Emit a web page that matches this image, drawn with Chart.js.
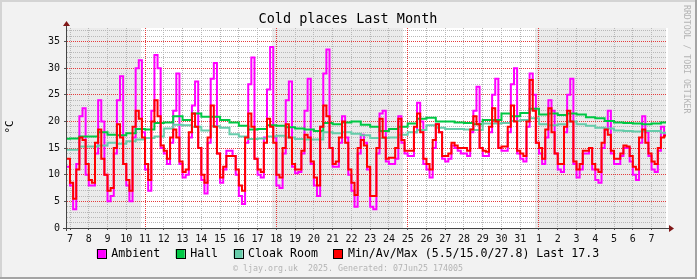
<!DOCTYPE html>
<html>
<head>
<meta charset="utf-8">
<script src="https://cdn.jsdelivr.net/npm/chart.js@4/dist/chart.umd.min.js"></script>
<style>
  html, body { margin: 0; padding: 0; background: #f2f2f2; }
  canvas { display: block; }
</style>
</head>
<body>
<canvas id="myChart" width="697" height="279"></canvas>
<script>
// x is days since 7 May 00:00, one label per midnight
const dayLabels = ['7','8','9','10','11','12','13','14','15','16','17','18','19','20','21','22','23','24','25','26','27','28','29','30','31','1','2','3','4','5','6','7'];
const weekLines = [4, 11, 18, 25];
const shadeBands = [[-0.16, 3.8], [10.77, 17.75], [24.8, 31.77]];
const yMajor = [0, 5, 10, 15, 20, 25, 30, 35];

const seriesNames = ['Ambient', 'Hall', 'Cloak Room', 'Min/Av/Max'];
const seriesColors = ['#ff00ff', '#00c844', '#66ccaa', '#ff0000'];
const redStats = ['5.5', '15.0', '27.8', '17.3'];

// 4 hour steps, first one starts 6 May 20:00
const ambientStart = -1 / 6;
const ambient = [11.5,
  8, 3.5, 12, 21, 22.5, 10,
  8, 8, 14, 24, 20, 10,
  5, 6, 14, 24, 28.5, 12,
  8, 5, 17, 30, 31.5, 18,
  11, 7, 22, 32.5, 30, 15,
  14, 12, 16, 22, 29, 12,
  9.5, 10, 17, 23, 27.5, 15,
  9, 6.5, 16, 28, 31, 14,
  8.5, 11, 14.5, 14.5, 13.5, 10,
  6, 4.5, 16, 27, 32, 13,
  10, 9.5, 17, 26, 34, 17,
  8, 7.5, 14, 24, 27.5, 11.5,
  10.3, 10.5, 14, 22, 28, 12,
  8, 6, 19, 29, 33.5, 15,
  11.5, 11.5, 16, 21, 17, 10,
  7, 4, 14, 17.5, 16, 11,
  4, 3.5, 14, 21.5, 22, 12.5,
  12, 12, 13, 21, 16, 14,
  13.5, 13.5, 18, 23.5, 20, 12,
  11, 9.5, 15, 19.5, 18, 13,
  12.5, 13, 15.5, 15, 14.5, 14,
  14, 13.5, 18, 22, 26.5, 15,
  13.5, 13.5, 18, 25, 28, 15,
  14.5, 14.5, 18, 27, 30, 14,
  13, 12.5, 19, 29, 25, 16,
  14, 12, 17, 24, 22, 14,
  11, 10.5, 18, 25, 28, 12,
  9.5, 11, 14, 14, 15, 11,
  9, 8.5, 15, 18.5, 22, 14,
  12, 12, 13.5, 15, 15, 12.5,
  10, 9, 16, 21, 18, 13.5,
  11, 10.5, 14.5, 19, 17.5];

const minAvMax = [13,
  8.5, 5.5, 11, 17, 16.5, 12,
  9, 8.5, 16, 18.5, 13, 10,
  7, 7.5, 15, 19.5, 17, 12,
  9, 7, 19, 22, 20.5, 17,
  12, 9, 20, 24, 21, 15.5,
  14.5, 13, 17, 18.5, 17, 12.5,
  10.5, 11, 18, 21.5, 19, 15,
  10, 8.5, 17, 23, 19, 14,
  9.5, 11.5, 13.5, 13.5, 13.5, 11,
  8, 7, 17, 21.5, 19, 13,
  11, 10.5, 16, 20.5, 19, 16,
  10, 9.5, 15, 19.5, 17, 12,
  11, 11, 14.5, 17.5, 17, 12.5,
  9.5, 8, 19, 23, 21, 15,
  12, 12.5, 17, 20, 16, 11,
  8.5, 6.2, 15, 16.5, 15.5, 11.5,
  6, 6, 15, 20.5, 17, 13,
  13.2, 13.2, 15, 20.5, 16.5, 14.5,
  14.5, 14.5, 19, 21.5, 18, 13,
  12, 11, 16.5, 19.5, 18, 13.5,
  13.5, 14, 16, 15.5, 15, 15,
  15, 14.5, 18.5, 21, 19.5, 15,
  14.5, 14.3, 19, 22.5, 20, 15,
  15.3, 15.3, 19, 23, 20, 14.5,
  14, 13.5, 20, 27.8, 22, 16,
  15, 13, 18.5, 22.5, 18, 14,
  12, 12, 19, 22, 20, 12.5,
  11, 12, 14.5, 14.5, 15, 12,
  11, 10.5, 16, 18.5, 17.5, 14.5,
  13, 13, 14, 15.5, 15.3, 13.5,
  11.5, 11, 17, 18.5, 16, 14,
  12.5, 12, 15, 17, 17.3];

// 12 hour steps, first one starts 6 May 12:00
const roomStart = -0.5;
const hall = [16.75, 16.8, 17.2, 17.2, 18, 17.5, 17.4, 17.8, 18.6, 18.5,
  19.7, 19.8, 21, 20.3, 21.5, 20.9, 20.9, 20.3, 19.8, 19.2,
  18.5, 18.6, 19.3, 19.2, 18.9, 18.7, 18.5, 18.2, 19.7, 19.5,
  19.8, 20, 19.4, 19, 18.2, 18.6, 19, 19.6, 20.5, 20.7,
  20, 20, 19.8, 19.7, 19.5, 20.3, 20.3, 21.5, 21, 21.6,
  22.4, 21.3, 21.5, 21.2, 21.5, 21.3, 20.8, 20.6, 20.1, 19.8,
  19.7, 19.6, 19.5, 19.6, 19.8];
const cloakRoom = [14.7, 14.7, 15.3, 15.3, 15.5, 16, 15.8, 16.3, 16.6, 16.9,
  17.2, 18.7, 19.4, 19.3, 19, 18.3, 19.1, 18.8, 17.6, 17.2,
  16.7, 16.8, 17.2, 17.3, 17, 16.7, 16.6, 16.6, 18, 17.8,
  18, 17.7, 17.4, 16.9, 16.9, 17, 17.5, 18, 18.4, 19.3,
  18.8, 18.6, 18.6, 18.5, 18.4, 19.6, 19.6, 19.7, 20.1, 20.3,
  20.6, 19.5, 19.3, 19.5, 20, 19.5, 19.2, 18.8, 18.7, 18.3,
  18.2, 18.1, 18.2, 18.2, 17.9];

const mono = 'DejaVu Sans Mono';
const majorRed = '#e43c3c';
const minorGrey = '#b8b8b8';

function steps(start, step, values) {
  const pts = values.map((v, i) => ({ x: start + i * step, y: v }));
  pts.push({ x: start + values.length * step, y: values[values.length - 1] });
  return pts;
}

const seriesData = [
  steps(ambientStart, 1 / 6, ambient),
  steps(roomStart, 0.5, hall),
  steps(roomStart, 0.5, cloakRoom),
  steps(ambientStart, 1 / 6, minAvMax)
];

const legendTexts = seriesNames.map((n, i) =>
  i === 3 ? `${n} (${redStats[0]}/${redStats[1]}/${redStats[2]}) Last ${redStats[3]}` : n);

// dotted rrdtool style grid, one pixel on / one off
function dottedV(ctx, px, top, bottom) {
  for (let py = Math.ceil(top); py < bottom; py += 2) ctx.fillRect(px, py, 1, 1);
}
function dottedH(ctx, py, left, right) {
  for (let px = Math.ceil(left); px < right; px += 2) ctx.fillRect(px, py, 1, 1);
}

const rrdLook = {
  id: 'rrdLook',
  beforeDraw(chart) {
    const { ctx, chartArea: a, scales: { x } } = chart;
    ctx.save();
    ctx.fillStyle = '#f2f2f2';
    ctx.fillRect(0, 0, chart.width, chart.height);
    ctx.fillStyle = '#ffffff';
    ctx.fillRect(a.left, a.top, a.right - a.left + 2, a.bottom - a.top);
    ctx.fillStyle = '#ebebeb';
    shadeBands.forEach(([s, e]) => {
      const x0 = Math.max(a.left, x.getPixelForValue(s));
      const x1 = Math.min(a.right, x.getPixelForValue(e));
      ctx.fillRect(Math.round(x0), a.top, Math.round(x1) - Math.round(x0), a.bottom - a.top);
    });
    ctx.fillStyle = '#d4d4d4';
    ctx.fillRect(0, 0, chart.width, 2);
    ctx.fillRect(0, 0, 2, chart.height);
    ctx.fillStyle = '#a4a4a4';
    ctx.fillRect(0, chart.height - 2, chart.width, 2);
    ctx.fillRect(chart.width - 2, 0, 2, chart.height);
    ctx.restore();
  },
  beforeDatasetsDraw(chart) {
    const { ctx, chartArea: a, scales: { x, y } } = chart;
    ctx.save();
    ctx.fillStyle = minorGrey;
    x.ticks.forEach(t => {
      if (!weekLines.includes(t.value)) dottedV(ctx, Math.floor(x.getPixelForValue(t.value)), a.top, a.bottom);
    });
    y.ticks.forEach(t => {
      if (!yMajor.includes(t.value)) dottedH(ctx, Math.floor(y.getPixelForValue(t.value)), a.left, a.right);
    });
    ctx.fillStyle = majorRed;
    y.ticks.forEach(t => {
      if (yMajor.includes(t.value) && t.value > 0) dottedH(ctx, Math.floor(y.getPixelForValue(t.value)), a.left, a.right);
    });
    weekLines.forEach(d => dottedV(ctx, Math.floor(x.getPixelForValue(d)), a.top, a.bottom));
    ctx.restore();
  },
  afterDatasetsDraw(chart) {
    const { ctx, chartArea: a } = chart;
    ctx.save();
    ctx.strokeStyle = '#444';
    ctx.lineWidth = 1;
    ctx.beginPath();
    ctx.moveTo(a.left - 0.5, a.bottom + 3);
    ctx.lineTo(a.left - 0.5, a.top - 3);
    ctx.moveTo(a.left - 4, a.bottom + 0.5);
    ctx.lineTo(a.right + 3, a.bottom + 0.5);
    ctx.stroke();
    ctx.fillStyle = '#801818';
    ctx.beginPath();
    ctx.moveTo(a.left - 0.5, a.top - 7);
    ctx.lineTo(a.left - 4, a.top - 2);
    ctx.lineTo(a.left + 3, a.top - 2);
    ctx.closePath();
    ctx.fill();
    ctx.beginPath();
    ctx.moveTo(a.right + 8, a.bottom + 0.5);
    ctx.lineTo(a.right + 3, a.bottom - 3);
    ctx.lineTo(a.right + 3, a.bottom + 4);
    ctx.closePath();
    ctx.fill();
    ctx.restore();
  },
  afterDraw(chart) {
    const { ctx } = chart;
    const cx = 348;
    ctx.save();
    ctx.textBaseline = 'middle';

    ctx.fillStyle = '#000';
    ctx.font = `13.5px "${mono}"`;
    ctx.textAlign = 'center';
    ctx.fillText('Cold places Last Month', cx, 19);

    ctx.save();
    ctx.translate(10, 127);
    ctx.rotate(-Math.PI / 2);
    ctx.font = `11px "${mono}"`;
    ctx.fillText('°C', 0, 0);
    ctx.restore();

    // legend
    ctx.font = `11.6px "${mono}"`;
    ctx.textAlign = 'left';
    const box = 9, gap = 5.5, itemGap = 15.5;
    const widths = legendTexts.map(t => ctx.measureText(t).width);
    const total = widths.reduce((s, w) => s + box + gap + w, 0) + itemGap * (widths.length - 1);
    let lx = cx - total / 2;
    const ly = 253.5;
    legendTexts.forEach((t, i) => {
      ctx.fillStyle = seriesColors[i];
      ctx.fillRect(lx, ly - box / 2, box, box);
      ctx.strokeStyle = '#000';
      ctx.lineWidth = 1;
      ctx.strokeRect(Math.round(lx) + 0.5, Math.round(ly - box / 2) + 0.5, box, box);
      ctx.fillStyle = '#000';
      ctx.fillText(t, lx + box + gap, ly + 0.5);
      lx += box + gap + widths[i] + itemGap;
    });

    // footer and side credit
    ctx.fillStyle = '#b4b4b4';
    ctx.font = `8.3px "${mono}"`;
    ctx.textAlign = 'center';
    ctx.fillText('\u00a9 ljay.org.uk  2025. Generated: 07Jun25 174005', cx, 268.5);

    ctx.save();
    ctx.translate(686.5, 5);
    ctx.rotate(Math.PI / 2);
    ctx.textAlign = 'left';
    ctx.font = `8.2px "${mono}"`;
    ctx.fillText('RRDTOOL / TOBI OETIKER', 0, 0);
    ctx.restore();

    ctx.restore();
  }
};

const ctx = document.getElementById('myChart').getContext('2d');
const myChart = new Chart(ctx, {
  type: 'line',
  data: {
    datasets: seriesData.map((data, i) => ({
      label: seriesNames[i],
      data,
      borderColor: seriesColors[i],
      backgroundColor: seriesColors[i],
      borderWidth: 2,
      pointRadius: 0,
      stepped: true,
      fill: false,
      order: 4 - i
    }))
  },
  options: {
    responsive: false,
    animation: false,
    devicePixelRatio: 1,
    parsing: false,
    layout: { padding: { top: 28, right: 31, bottom: 31, left: 0 } },
    plugins: {
      legend: { display: false },
      title: { display: false },
      tooltip: { enabled: false }
    },
    scales: {
      x: {
        type: 'linear',
        min: -0.16,
        max: 31.77,
        afterBuildTicks: s => { s.ticks = dayLabels.map((_, i) => ({ value: i })); },
        afterFit: s => { s.height = 20; },
        ticks: {
          callback: v => dayLabels[v] ?? '',
          autoSkip: false,
          maxRotation: 0,
          padding: 3,
          color: '#111',
          font: { family: mono, size: 10 }
        },
        grid: {
          drawOnChartArea: false,
          tickLength: 2,
          tickColor: '#555'
        },
        border: { display: false }
      },
      y: {
        type: 'linear',
        min: 0,
        max: 37.55,
        afterBuildTicks: s => {
          const t = [];
          for (let v = 0; v <= 37; v++) t.push({ value: v });
          s.ticks = t;
        },
        afterFit: s => { s.width = 67; },
        ticks: {
          callback: v => yMajor.includes(v) ? String(v) : '',
          autoSkip: false,
          padding: 4,
          color: '#111',
          font: { family: mono, size: 10 }
        },
        grid: {
          drawOnChartArea: false,
          tickLength: 3,
          tickColor: c => (c.tick && yMajor.includes(c.tick.value)) ? '#555' : 'rgba(0,0,0,0)'
        },
        border: { display: false }
      }
    }
  },
  plugins: [rrdLook]
});
</script>
</body>
</html>
